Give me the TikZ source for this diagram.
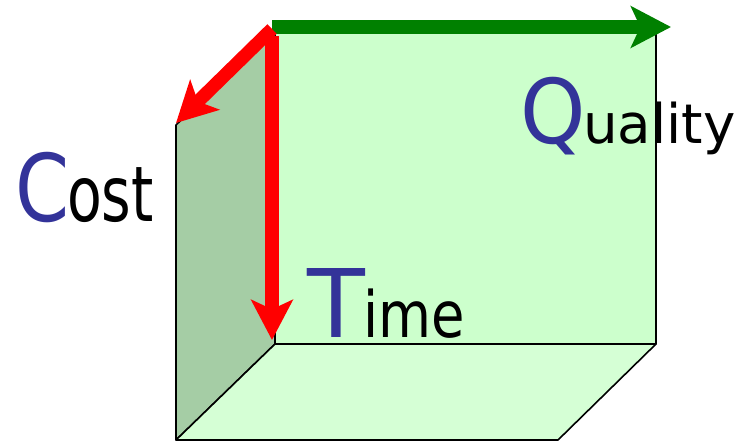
\documentclass[tikz,border=0pt]{standalone}
\usepackage{fontspec}
\setmainfont{DejaVu Sans}
\usetikzlibrary{arrows.meta}
\definecolor{backface}{RGB}{204,255,204}
\definecolor{sideface}{RGB}{165,205,165}
\definecolor{floorface}{RGB}{213,255,213}
\definecolor{letterblue}{RGB}{51,51,153}
\definecolor{axisgreen}{RGB}{0,128,0}
\definecolor{axisred}{RGB}{255,0,0}

\begin{document}
\begin{tikzpicture}[x=0.75pt,y=-0.75pt,
  face/.style={draw=black, line width=1.2pt, line join=round},
  axis/.style={line width=10pt, -{Stealth[length=30pt,width=31pt,inset=7pt]}},
  word/.style={inner sep=0pt, anchor=base west, font=\fontsize{#1}{#1}\selectfont}]
\useasboundingbox (0,0) rectangle (751,443);
% corners of the box
\coordinate (back-tl) at (275,31);
\coordinate (back-tr) at (656,31);
\coordinate (back-br) at (656,344);
\coordinate (back-bl) at (275,344);
\coordinate (side-tl) at (176,125);
\coordinate (side-bl) at (176,440);
\coordinate (floor-br) at (558,440);

% faces
\filldraw[face, fill=sideface] (side-tl) -- (back-tl) -- (back-bl) -- (side-bl) -- cycle;
\filldraw[face, fill=floorface] (side-bl) -- (back-bl) -- (back-br) -- (floor-br) -- cycle;
\filldraw[face, fill=backface] (back-tl) rectangle (back-br);

% the three axes
\coordinate (origin) at (272,27);
\coordinate (quality-end) at (671,27);
\coordinate (time-start) at (272,36);
\coordinate (time-end) at (272,340);
\coordinate (cost-start) at (272,29);
\coordinate (cost-end) at (176,123);
\draw[axis, axisgreen] (origin) -- (quality-end);
\draw[axis, axisred] (time-start) -- (time-end);
\draw[axis, axisred] (cost-start) -- (cost-end);

% labels
\node[word=70, text=letterblue, xscale=0.83] (cost-c) at (15,221) {C};
\node[word=57.6, xscale=0.74] (cost-rest) at (67,221) {ost};
\node[word=71, text=letterblue] (time-t) at (307,337) {T};
\node[word=48, xscale=0.85] (time-rest) at (363,337) {ime};
\node[word=67, text=letterblue, xscale=0.93] (quality-q) at (520,143) {Q};
\node[word=41] (quality-rest) at (583,143) {uality};
\end{tikzpicture}
\end{document}
